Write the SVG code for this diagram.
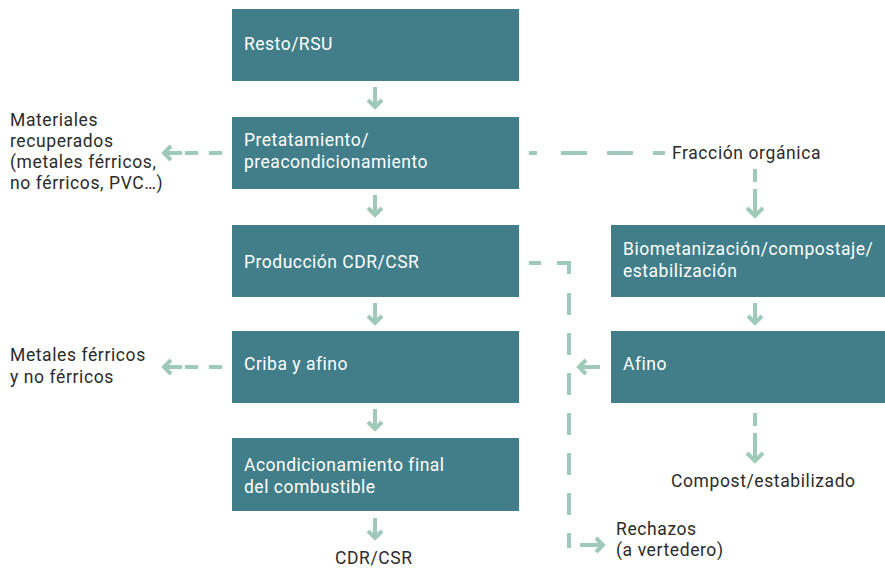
<svg xmlns="http://www.w3.org/2000/svg" width="885" height="570" viewBox="0 0 885 570">
<defs>
<style>
.box{fill:#417e8a}
.bt{font-family:Roboto,"Liberation Sans",sans-serif;font-size:17.5px;letter-spacing:0.5px;fill:#ffffff}
.lt{font-family:Roboto,"Liberation Sans",sans-serif;font-size:17.5px;letter-spacing:0.6px;fill:#2b2b2b}
.ln{stroke:#9fc9b8;stroke-width:4;fill:none}
.ds{stroke:#9fc9b8;stroke-width:4;fill:none}
.hd{stroke:#9fc9b8;stroke-width:4;fill:none}
</style>
</defs>
<rect width="885" height="570" fill="#ffffff"/>
<g id="n1"><rect class="box" x="232" y="9" width="287" height="72"/><text class="bt" x="244" y="50">Resto/RSU</text></g>
<g id="n2"><rect class="box" x="232" y="117" width="287" height="72"/><text class="bt" x="244" y="146">Pretatamiento/</text><text class="bt" x="244" y="168">preacondicionamiento</text></g>
<g id="n3"><rect class="box" x="232" y="225" width="287" height="72"/><text class="bt" x="244" y="268">Producción CDR/CSR</text></g>
<g id="n4"><rect class="box" x="232" y="331" width="287" height="72"/><text class="bt" x="244" y="370">Criba y afino</text></g>
<g id="n5"><rect class="box" x="232" y="438" width="287" height="73"/><text class="bt" x="244" y="471">Acondicionamiento final</text><text class="bt" x="244" y="493">del combustible</text></g>
<g id="n6"><rect class="box" x="611" y="225" width="274" height="72"/><text class="bt" x="623" y="255">Biometanización/compostaje/</text><text class="bt" x="623" y="277">estabilización</text></g>
<g id="n7"><rect class="box" x="611" y="331" width="274" height="72"/><text class="bt" x="623" y="370">Afino</text></g>
<g id="l1"><text class="lt" x="10" y="126">Materiales</text><text class="lt" x="10" y="147">recuperados</text><text class="lt" x="10" y="168">(metales férricos,</text><text class="lt" x="10" y="189">no férricos, PVC…)</text></g>
<g id="l2"><text class="lt" x="10" y="361">Metales férricos</text><text class="lt" x="10" y="383">y no férricos</text></g>
<g id="l3"><text class="lt" x="672" y="159">Fracción orgánica</text></g>
<g id="l4"><text class="lt" x="671" y="487">Compost/estabilizado</text></g>
<g id="l5"><text class="lt" x="616" y="535">Rechazos</text><text class="lt" x="616" y="556">(a vertedero)</text></g>
<g id="l6"><text class="lt" x="335" y="564">CDR/CSR</text></g>
<g id="connectors">
<path class="ln" d="M375 87V108M368 100L375 107L382 100"/>
<path class="ln" d="M375 195V216M368 208L375 215L382 208"/>
<path class="ln" d="M375 303V324M368 316L375 323L382 316"/>
<path class="ln" d="M375 409V430M368 422L375 429L382 422"/>
<path class="ln" d="M375 518V539M368 531L375 538L382 531"/>
<path class="ln" d="M755 303V324M748 316L755 323L762 316"/>
<path class="ds" d="M222 153H182" stroke-dasharray="13 11 13 10"/>
<path class="hd" d="M182 153H164M171 146L164 153L171 160"/>
<path class="ds" d="M222 367H182" stroke-dasharray="13 11 13 10"/>
<path class="hd" d="M182 367H164M171 360L164 367L171 374"/>
<path class="ds" d="M529 153H665" stroke-dasharray="8 24 26 20 26 20 12 50"/>
<path class="ds" d="M755 169V182"/>
<path class="hd" d="M755 189V216M747 208L755 216L763 208"/>
<path class="ds" d="M529 263H569V548" stroke-dasharray="12 16 23 19 22 18 22 18 22 18 22 18 22 18 22 18 22 18 22 18 22 18"/>
<path class="ds" d="M580 545H590"/>
<path class="hd" d="M590 545H603M596 538L603 545L596 552"/>
<path class="hd" d="M600 367H579M586 360L579 367L586 374"/>
<path class="ds" d="M755 413V426"/>
<path class="hd" d="M755 433V461M747 453L755 461L763 453"/>
</g>
</svg>
